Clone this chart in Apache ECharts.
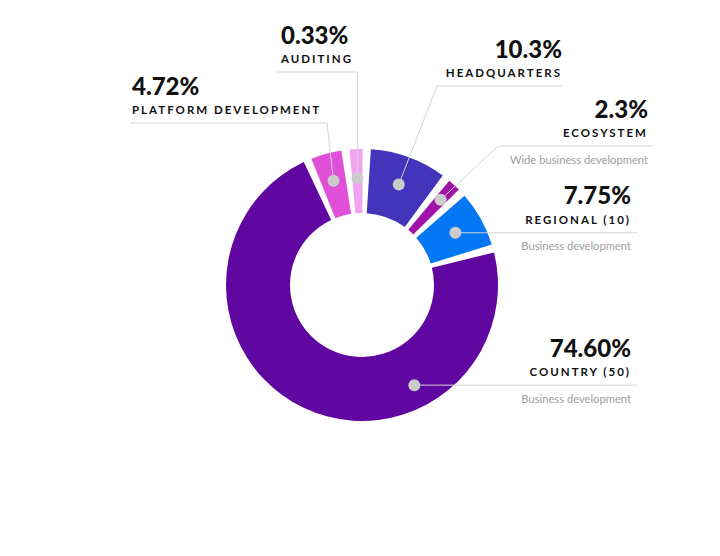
<!DOCTYPE html>
<html>
<head>
<meta charset="utf-8">
<script src="https://cdn.jsdelivr.net/npm/echarts@6/dist/echarts.min.js"></script>
<style>
  html, body { margin: 0; padding: 0; background: #fff; }
  #chart { width: 720px; height: 556px; }
  /* spaced-out capitals for the category names */
  #chart text[style*="11.5px"] { letter-spacing: 2px; }
</style>
</head>
<body>
<div id="chart"></div>
<script>
const names = ['HEADQUARTERS', 'ECOSYSTEM', 'REGIONAL (10)', 'COUNTRY (50)', 'PLATFORM DEVELOPMENT', 'AUDITING'];
const values = [10.3, 2.3, 7.75, 74.60, 4.72, 0.33];
const valueLabels = ['10.3%', '2.3%', '7.75%', '74.60%', '4.72%', '0.33%'];
const notes = ['', 'Wide business development', 'Business development', 'Business development', '', ''];
const colors = ['#4434bc', '#a112a9', '#0477f4', '#6107a1', '#e04fd8', '#f2a3ef'];

// label placement (layout only)
const sides = ['right', 'right', 'right', 'right', 'left', 'left'];
const textX = [562, 648, 631, 631, 132, 281];
const lineEndX = [563, 653, 637, 637, 130, 277];
// elbow of the guide line: null = horizontal from the dot, 'dot' = straight up from the dot
const elbows = [[437, 86], [498, 146], null, null, [327, 123], ['dot', 72]];
// turn of the dot away from the slice's middle (degrees, clockwise) and its distance from the centre
const dotTurn = [0, 0, 0, -53, 0, 0];
const dotR = [107, 116, 107, 113, 108, 107];

const center = [362, 285];
const radius = [72, 136];

function dotPos(px, py, i) {
  const a = Math.atan2(py - center[1], px - center[0]) + dotTurn[i] * Math.PI / 180;
  return [center[0] + Math.cos(a) * dotR[i], center[1] + Math.sin(a) * dotR[i]];
}

const chart = echarts.init(document.getElementById('chart'), null, { renderer: 'svg' });

const data = values.map((v, i) => ({ value: v, name: names[i] }));

const base = {
  type: 'pie',
  center: center,
  radius: radius,
  startAngle: 88,
  clockwise: true,
  padAngle: 3.5,
  minAngle: 5.5,
  avoidLabelOverlap: false,
  emphasis: { disabled: true },
  animation: false
};

const richFor = (align) => ({
  ['v' + align]: { fontFamily: 'Lato', fontSize: 24, fontWeight: 900, color: '#111', lineHeight: 22, align: align },
  ['n' + align]: { fontFamily: 'Lato', fontSize: 11.5, fontWeight: 'bold', color: '#111', lineHeight: 27, align: align },
  ['s' + align]: { fontFamily: 'Lato', fontSize: 11.2, color: '#a0a0a0', lineHeight: 26, align: align }
});

chart.setOption({
  backgroundColor: '#fff',
  series: [
    Object.assign({}, base, {
      z: 2,
      data: data.map((d, i) => Object.assign({}, d, { itemStyle: { color: colors[i] } })),
      label: { show: false },
      labelLine: { show: false }
    }),
    Object.assign({}, base, {
      z: 3,
      silent: true,
      data: data,
      itemStyle: { color: 'rgba(0,0,0,0)' },
      label: {
        show: true,
        formatter: (p) => {
          const a = sides[p.dataIndex];
          let s = '{v' + a + '|' + valueLabels[p.dataIndex] + '}\n{n' + a + '|' + names[p.dataIndex] + '}';
          if (notes[p.dataIndex]) s += '\n{s' + a + '|' + notes[p.dataIndex] + '}';
          return s;
        },
        rich: Object.assign({}, richFor('right'), richFor('left'))
      },
      labelLine: { show: true, length: 10, length2: 10, lineStyle: { color: '#d4d4d4', width: 1 } },
      labelLayout: (params) => {
        const i = params.dataIndex;
        const p0 = params.labelLinePoints[0];
        const dot = dotPos(p0[0], p0[1], i);
        let elbow;
        if (elbows[i] === null) {
          elbow = [(dot[0] + lineEndX[i]) / 2, dot[1]];
        } else if (elbows[i][0] === 'dot') {
          elbow = [dot[0], elbows[i][1]];
        } else {
          elbow = elbows[i];
        }
        const lineY = elbow[1];
        return {
          x: textX[i],
          y: lineY - 49,
          align: sides[i],
          verticalAlign: 'top',
          labelLinePoints: [dot, elbow, [lineEndX[i], lineY]]
        };
      }
    }),
    Object.assign({}, base, {
      z: 4,
      silent: true,
      data: data,
      itemStyle: { color: 'rgba(0,0,0,0)' },
      label: {
        show: true,
        position: 'inside',
        formatter: '{d|}',
        rich: { d: { width: 12, height: 12, borderRadius: 6, backgroundColor: '#cbcbcb' } }
      },
      labelLine: { show: false },
      labelLayout: (params) => {
        const r = params.labelRect;
        const dot = dotPos(r.x + r.width / 2, r.y + r.height / 2, params.dataIndex);
        return { x: dot[0], y: dot[1], align: 'center', verticalAlign: 'middle' };
      }
    })
  ]
});
</script>
</body>
</html>
